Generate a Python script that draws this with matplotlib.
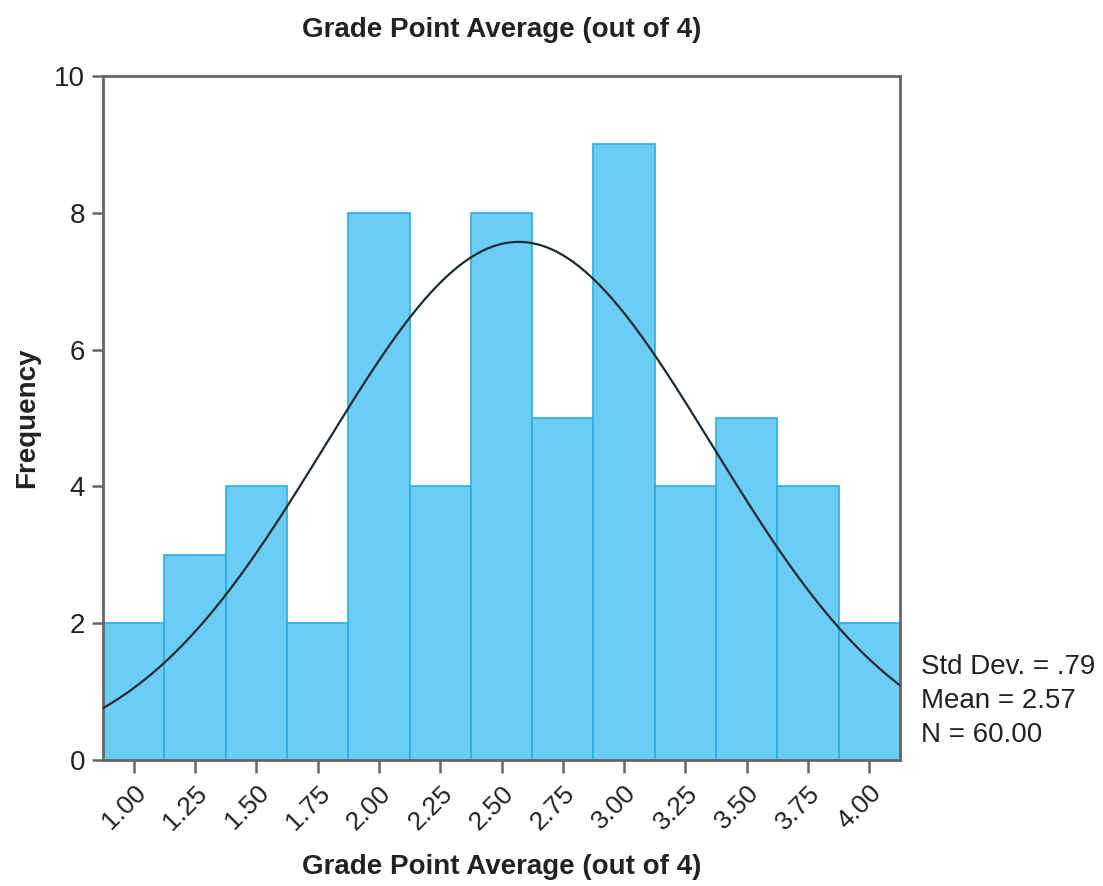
import numpy as np
import matplotlib
matplotlib.use("Agg")
import matplotlib.pyplot as plt

plt.rcParams['font.family'] = ['Liberation Sans', 'DejaVu Sans']

# GPA histogram: bin centres and counts
bin_centers = [1.00, 1.25, 1.50, 1.75, 2.00, 2.25, 2.50, 2.75, 3.00, 3.25, 3.50, 3.75, 4.00]
counts = [2, 3, 4, 2, 8, 4, 8, 5, 9, 4, 5, 4, 2]
tick_labels = ["1.00", "1.25", "1.50", "1.75", "2.00", "2.25", "2.50",
               "2.75", "3.00", "3.25", "3.50", "3.75", "4.00"]
y_ticks = [0, 2, 4, 6, 8, 10]

mean = 2.57
std = 0.79
n = 60
bin_width = 0.25

bar_color = '#6ccdf4'
edge_color = '#2aaee2'
axis_color = '#666666'
text_color = '#222222'

fig = plt.figure(figsize=(11.03, 8.86), dpi=100)
ax = fig.add_axes([0.0934, 0.1422, 0.7226, 0.7720])

ax.bar(bin_centers, counts, width=bin_width, color=bar_color,
       edgecolor=edge_color, linewidth=1.2, zorder=2)

# normal curve scaled to the histogram
xs = np.linspace(0.875, 4.125, 400)
ys = n * bin_width / (std * np.sqrt(2 * np.pi)) * np.exp(-0.5 * ((xs - mean) / std) ** 2)
ax.plot(xs, ys, color='#1c2b35', linewidth=1.6, zorder=3)

ax.set_xlim(0.875, 4.125)
ax.set_ylim(0, 10)

ax.set_xticks(bin_centers)
ax.set_xticklabels(tick_labels, rotation=45, ha='right', rotation_mode='anchor',
                   fontsize=19, color=text_color)
ax.set_yticks(y_ticks)
ax.set_yticklabels([str(v) for v in y_ticks], fontsize=20, color=text_color)

ax.tick_params(axis='x', direction='out', length=9, width=1.8, color=axis_color, pad=6)
ax.tick_params(axis='y', direction='out', length=8, width=1.8, color=axis_color, pad=5)

for side in ['left', 'right', 'top', 'bottom']:
    ax.spines[side].set_color(axis_color)
    ax.spines[side].set_linewidth(2)

ax.set_title("Grade Point Average (out of 4)", fontsize=20, fontweight='bold',
             color=text_color, pad=28)
ax.set_xlabel("Grade Point Average (out of 4)", fontsize=20, fontweight='bold',
              color=text_color, labelpad=14)
ax.set_ylabel("Frequency", fontsize=20, fontweight='bold', color=text_color)
ax.yaxis.set_label_coords(-0.079, 0.5)

stats = "Std Dev. = .79\nMean = 2.57\nN = 60.00"
ax.text(1.026, 0.087, stats, transform=ax.transAxes, fontsize=20, color=text_color,
        ha='left', va='center', linespacing=1.4)

fig.savefig("out.png", dpi=100)
